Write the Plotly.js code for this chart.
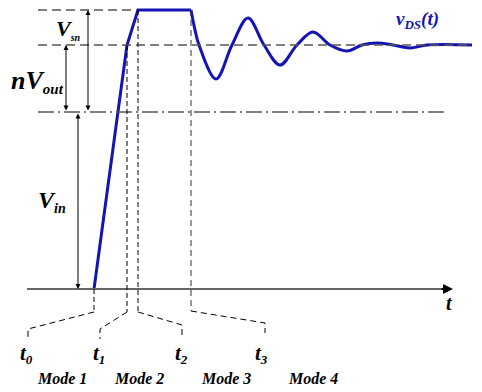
<!DOCTYPE html>
<html><head><meta charset="utf-8">
<script src="https://cdn.plot.ly/plotly-3.0.1.min.js"></script>
<style>html,body{margin:0;padding:0;background:#fff;}#c{width:482px;height:392px;}</style>
</head><body><div id="c"></div>
<script>
// Schematic drawn on a pixel-like coordinate frame (x: time, y: level, downward)
// Ramp + flat top of v_DS(t)
const rampT = [94, 127, 138, 191];
const rampV = [289, 45, 10, 10];
// Ringing part of v_DS(t)
const ringT = [191, 195, 199, 216, 232, 248, 264, 280, 297, 313, 330, 347, 362, 377, 393, 410, 427, 472];
const ringV = [10, 30, 45, 79, 45, 18, 45, 65, 45, 32, 45, 51, 45, 43, 45, 48, 45, 45];
// reference levels
const levelTop = 10, levelMid = 45, levelLow = 112, levelBase = 289;
// time marks t0..t3 on the axis, and their label positions
const markT = [94, 127, 138, 191];
const tickLabels = ['t<sub>0</sub>', 't<sub>1</sub>', 't<sub>2</sub>', 't<sub>3</sub>'];
const tickLabelX = [26, 99, 181, 261];
const bracketEndX = [28, 100, 182, 265];
const bracketEndY = [329, 329, 325, 323];
const modeLabels = ['Mode 1', 'Mode 2', 'Mode 3', 'Mode 4'];
const modeX = [62, 139, 226, 313];

const blue = '#1414b4';
const serif = 'Liberation Serif, Times New Roman, serif';

const traces = [
  {x: rampT, y: rampV, mode: 'lines', line: {color: blue, width: 3}, hoverinfo: 'skip'},
  {x: ringT, y: ringV, mode: 'lines', line: {color: blue, width: 3, shape: 'spline', smoothing: 1}, hoverinfo: 'skip'}
];

const shapes = [];
const gray = '#555555';
// horizontal reference lines
shapes.push({type: 'line', x0: 38, x1: 137, y0: levelTop, y1: levelTop, line: {color: gray, width: 1.3, dash: '9px,5px'}});
shapes.push({type: 'line', x0: 38, x1: 472, y0: levelMid, y1: levelMid, line: {color: gray, width: 1.6, dash: '9px,5px'}});
shapes.push({type: 'line', x0: 38, x1: 448, y0: levelLow, y1: levelLow, line: {color: gray, width: 1.3, dash: '16px,4px,2px,4px'}});
// time axis
shapes.push({type: 'line', x0: 27, x1: 446, y0: levelBase, y1: levelBase, line: {color: '#666', width: 2}});
// vertical dashed markers
shapes.push({type: 'line', x0: markT[0], x1: markT[0], y0: levelBase, y1: 312, line: {color: '#000', width: 1, dash: '5px,3px'}});
shapes.push({type: 'line', x0: markT[1], x1: markT[1], y0: levelMid, y1: 312, line: {color: '#000', width: 1, dash: '5px,3px'}});
shapes.push({type: 'line', x0: markT[2], x1: markT[2], y0: levelTop, y1: 312, line: {color: '#000', width: 1, dash: '5px,3px'}});
shapes.push({type: 'line', x0: markT[3], x1: markT[3], y0: levelTop, y1: 311, line: {color: '#333', width: 1, dash: '6px,4px'}});
// brackets to t labels
for (let i = 0; i < 4; i++) {
  const startY = i === 3 ? 311 : 312;
  shapes.push({type: 'path', path: `M ${markT[i]} ${startY} L ${bracketEndX[i]} ${bracketEndY[i]} L ${bracketEndX[i]} ${bracketEndY[i] + 10}`,
    line: {color: '#000', width: 1, dash: '6px,4px'}});
}

const annotations = [];
function arrow2(x, yA, yB) {
  annotations.push({x: x, y: yA, ax: x, ay: yB, xref: 'x', yref: 'y', axref: 'x', ayref: 'y', text: '', showarrow: true,
    arrowhead: 2, startarrowhead: 2, arrowside: 'end+start', arrowsize: 1, arrowwidth: 1, arrowcolor: '#000'});
}
arrow2(88, levelTop, levelLow);
arrow2(66, levelMid, levelLow);
arrow2(78, levelBase, levelLow);
// axis arrow head
annotations.push({x: 453, y: levelBase, ax: 440, ay: levelBase, xref: 'x', yref: 'y', axref: 'x', ayref: 'y', text: '', showarrow: true,
  arrowhead: 2, arrowsize: 1, arrowwidth: 2, arrowcolor: '#000'});

function label(text, x, y, size, color) {
  annotations.push({x: x, y: y, xref: 'x', yref: 'y', text: text, showarrow: false,
    font: {family: serif, size: size, color: color || '#000', weight: 'bold', style: 'italic'}});
}
label('V<sub><span style="font-size:10px">sn</span></sub>', 68, 29, 22);
label('nV<sub><span style="font-size:15px">out</span></sub>', 37, 81, 26);
label('V<sub><span style="font-size:14px">in</span></sub>', 52, 201, 24);
label('v<sub><span style="font-size:13px">DS</span></sub>(t)', 417, 20, 19, blue);
label('t', 449, 303, 20);
for (let i = 0; i < 4; i++) {
  label(tickLabels[i].replace('<sub>', '<sub><span style="font-size:13px">').replace('</sub>', '</span></sub>'), tickLabelX[i], 354, 21);
  label(modeLabels[i], modeX[i], 378, 16);
}

const layout = {
  width: 482, height: 392, margin: {l: 0, r: 0, t: 0, b: 0},
  paper_bgcolor: '#fff', plot_bgcolor: '#fff', showlegend: false,
  xaxis: {range: [0, 482], visible: false, fixedrange: true},
  yaxis: {range: [392, 0], visible: false, fixedrange: true},
  shapes: shapes, annotations: annotations
};
Plotly.newPlot('c', traces, layout, {staticPlot: true, displayModeBar: false});
</script></body></html>
